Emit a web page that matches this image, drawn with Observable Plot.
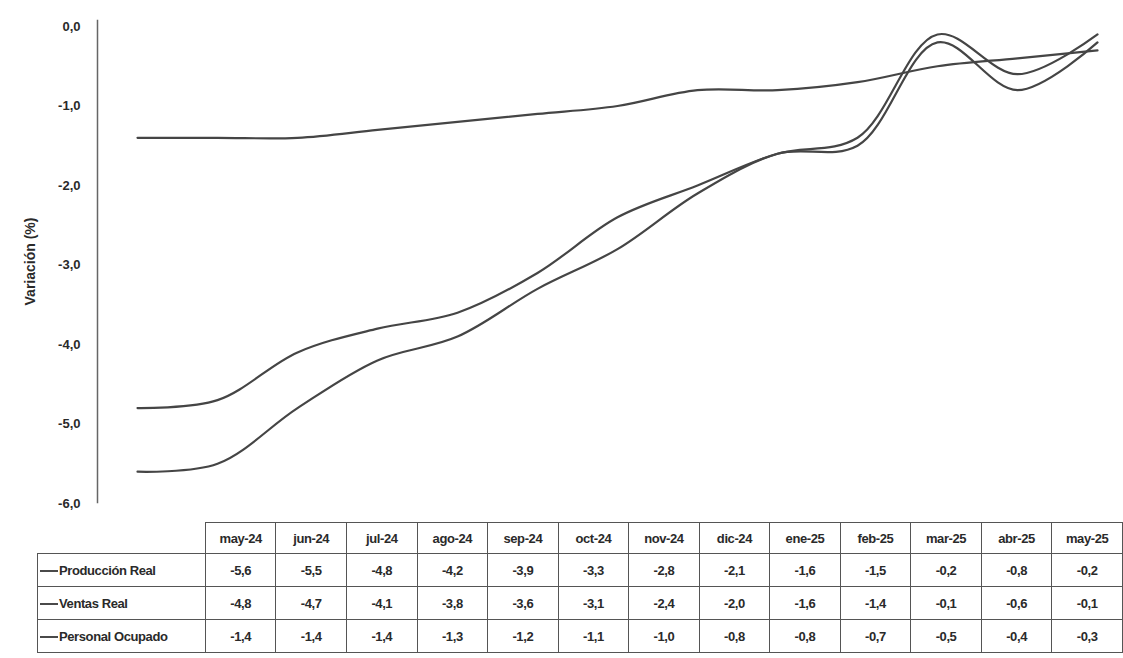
<!DOCTYPE html>
<html>
<head>
<meta charset="utf-8">
<script src="https://cdn.jsdelivr.net/npm/d3@7"></script>
<script src="https://cdn.jsdelivr.net/npm/@observablehq/plot@0.6"></script>
<style>
  html, body { margin: 0; padding: 0; background: #fff; }
  #wrap { position: relative; width: 1123px; height: 658px; overflow: hidden; }
  #chart { position: absolute; left: 0; top: 0; }
  table.data {
    position: absolute; left: 37px; top: 522px;
    border-collapse: collapse; table-layout: fixed;
    font-family: "Liberation Sans", Arial, sans-serif;
    font-size: 13px; font-weight: bold; color: #2a2a2a; letter-spacing: -0.4px;
  }
  table.data td { border: 1.5px solid #555; text-align: center; padding: 0; height: 32px; }
  table.data tr.head td { height: 30px; }
  table.data td.blank { border: none; }
  table.data td.lab { text-align: left; padding-left: 2px; white-space: nowrap; }
  .sw { display: inline-block; width: 18px; border-top: 2px solid #4a4a4a; vertical-align: middle; margin-right: 1px; }
</style>
</head>
<body>
<div id="wrap"><div id="chart"></div></div>
<script>
const months = ["may-24","jun-24","jul-24","ago-24","sep-24","oct-24","nov-24","dic-24","ene-25","feb-25","mar-25","abr-25","may-25"];
const seriesNames = ["Producción Real","Ventas Real","Personal Ocupado"];
const produccion = [-5.6,-5.5,-4.8,-4.2,-3.9,-3.3,-2.8,-2.1,-1.6,-1.5,-0.2,-0.8,-0.2];
const ventas     = [-4.8,-4.7,-4.1,-3.8,-3.6,-3.1,-2.4,-2.0,-1.6,-1.4,-0.1,-0.6,-0.1];
const personal   = [-1.4,-1.4,-1.4,-1.3,-1.2,-1.1,-1.0,-0.8,-0.8,-0.7,-0.5,-0.4,-0.3];
const yTicks = [0,-1,-2,-3,-4,-5,-6];

const seriesValues = [produccion, ventas, personal];
const rows = [];
seriesNames.forEach((name, i) => months.forEach((m, j) => rows.push({serie: name, month: m, value: seriesValues[i][j]})));
const fmt = v => v.toFixed(1).replace(".", ",");

const chart = Plot.plot({
  width: 1123,
  height: 515,
  marginLeft: 97,
  marginTop: 20,
  marginBottom: 13,
  marginRight: 10,
  style: {fontFamily: "'Liberation Sans', Arial, sans-serif", fontSize: "13px", color: "#2a2a2a", background: "transparent"},
  x: {type: "point", domain: months, range: [133, 1100], padding: 0, axis: null},
  y: {domain: [-6, 0], range: [503, 26]},
  marks: [
    Plot.frame({anchor: "left", stroke: "#666", strokeWidth: 1.5}),
    Plot.axisY({ticks: yTicks, tickSize: 0, tickPadding: 17, tickFormat: fmt, fontWeight: "bold", fontSize: 13,
      label: "Variación (%)", labelAnchor: "center", labelOffset: 72, labelArrow: "none"}),
    Plot.line(rows, {x: "month", y: "value", z: "serie", stroke: "#454545", strokeWidth: 2.2, curve: "catmull-rom"})
  ]
});
chart.querySelectorAll("g[aria-label='y-axis label']").forEach(e => { e.setAttribute("font-weight", "bold"); e.setAttribute("font-size", "14"); });
document.getElementById("chart").appendChild(chart);

// data table below chart
const table = document.createElement("table");
table.className = "data";
const colgroup = document.createElement("colgroup");
const c0 = document.createElement("col"); c0.style.width = "168px"; colgroup.appendChild(c0);
months.forEach(() => { const c = document.createElement("col"); c.style.width = "70.6px"; colgroup.appendChild(c); });
table.appendChild(colgroup);
const head = document.createElement("tr"); head.className = "head";
const blank = document.createElement("td"); blank.className = "blank"; head.appendChild(blank);
months.forEach(m => { const td = document.createElement("td"); td.textContent = m; head.appendChild(td); });
table.appendChild(head);
seriesNames.forEach((name, i) => {
  const tr = document.createElement("tr");
  const lab = document.createElement("td"); lab.className = "lab";
  const sw = document.createElement("span"); sw.className = "sw";
  lab.appendChild(sw);
  lab.appendChild(document.createTextNode(name));
  tr.appendChild(lab);
  seriesValues[i].forEach(v => { const td = document.createElement("td"); td.textContent = fmt(v); tr.appendChild(td); });
  table.appendChild(tr);
});
document.getElementById("wrap").appendChild(table);
</script>
</body>
</html>
